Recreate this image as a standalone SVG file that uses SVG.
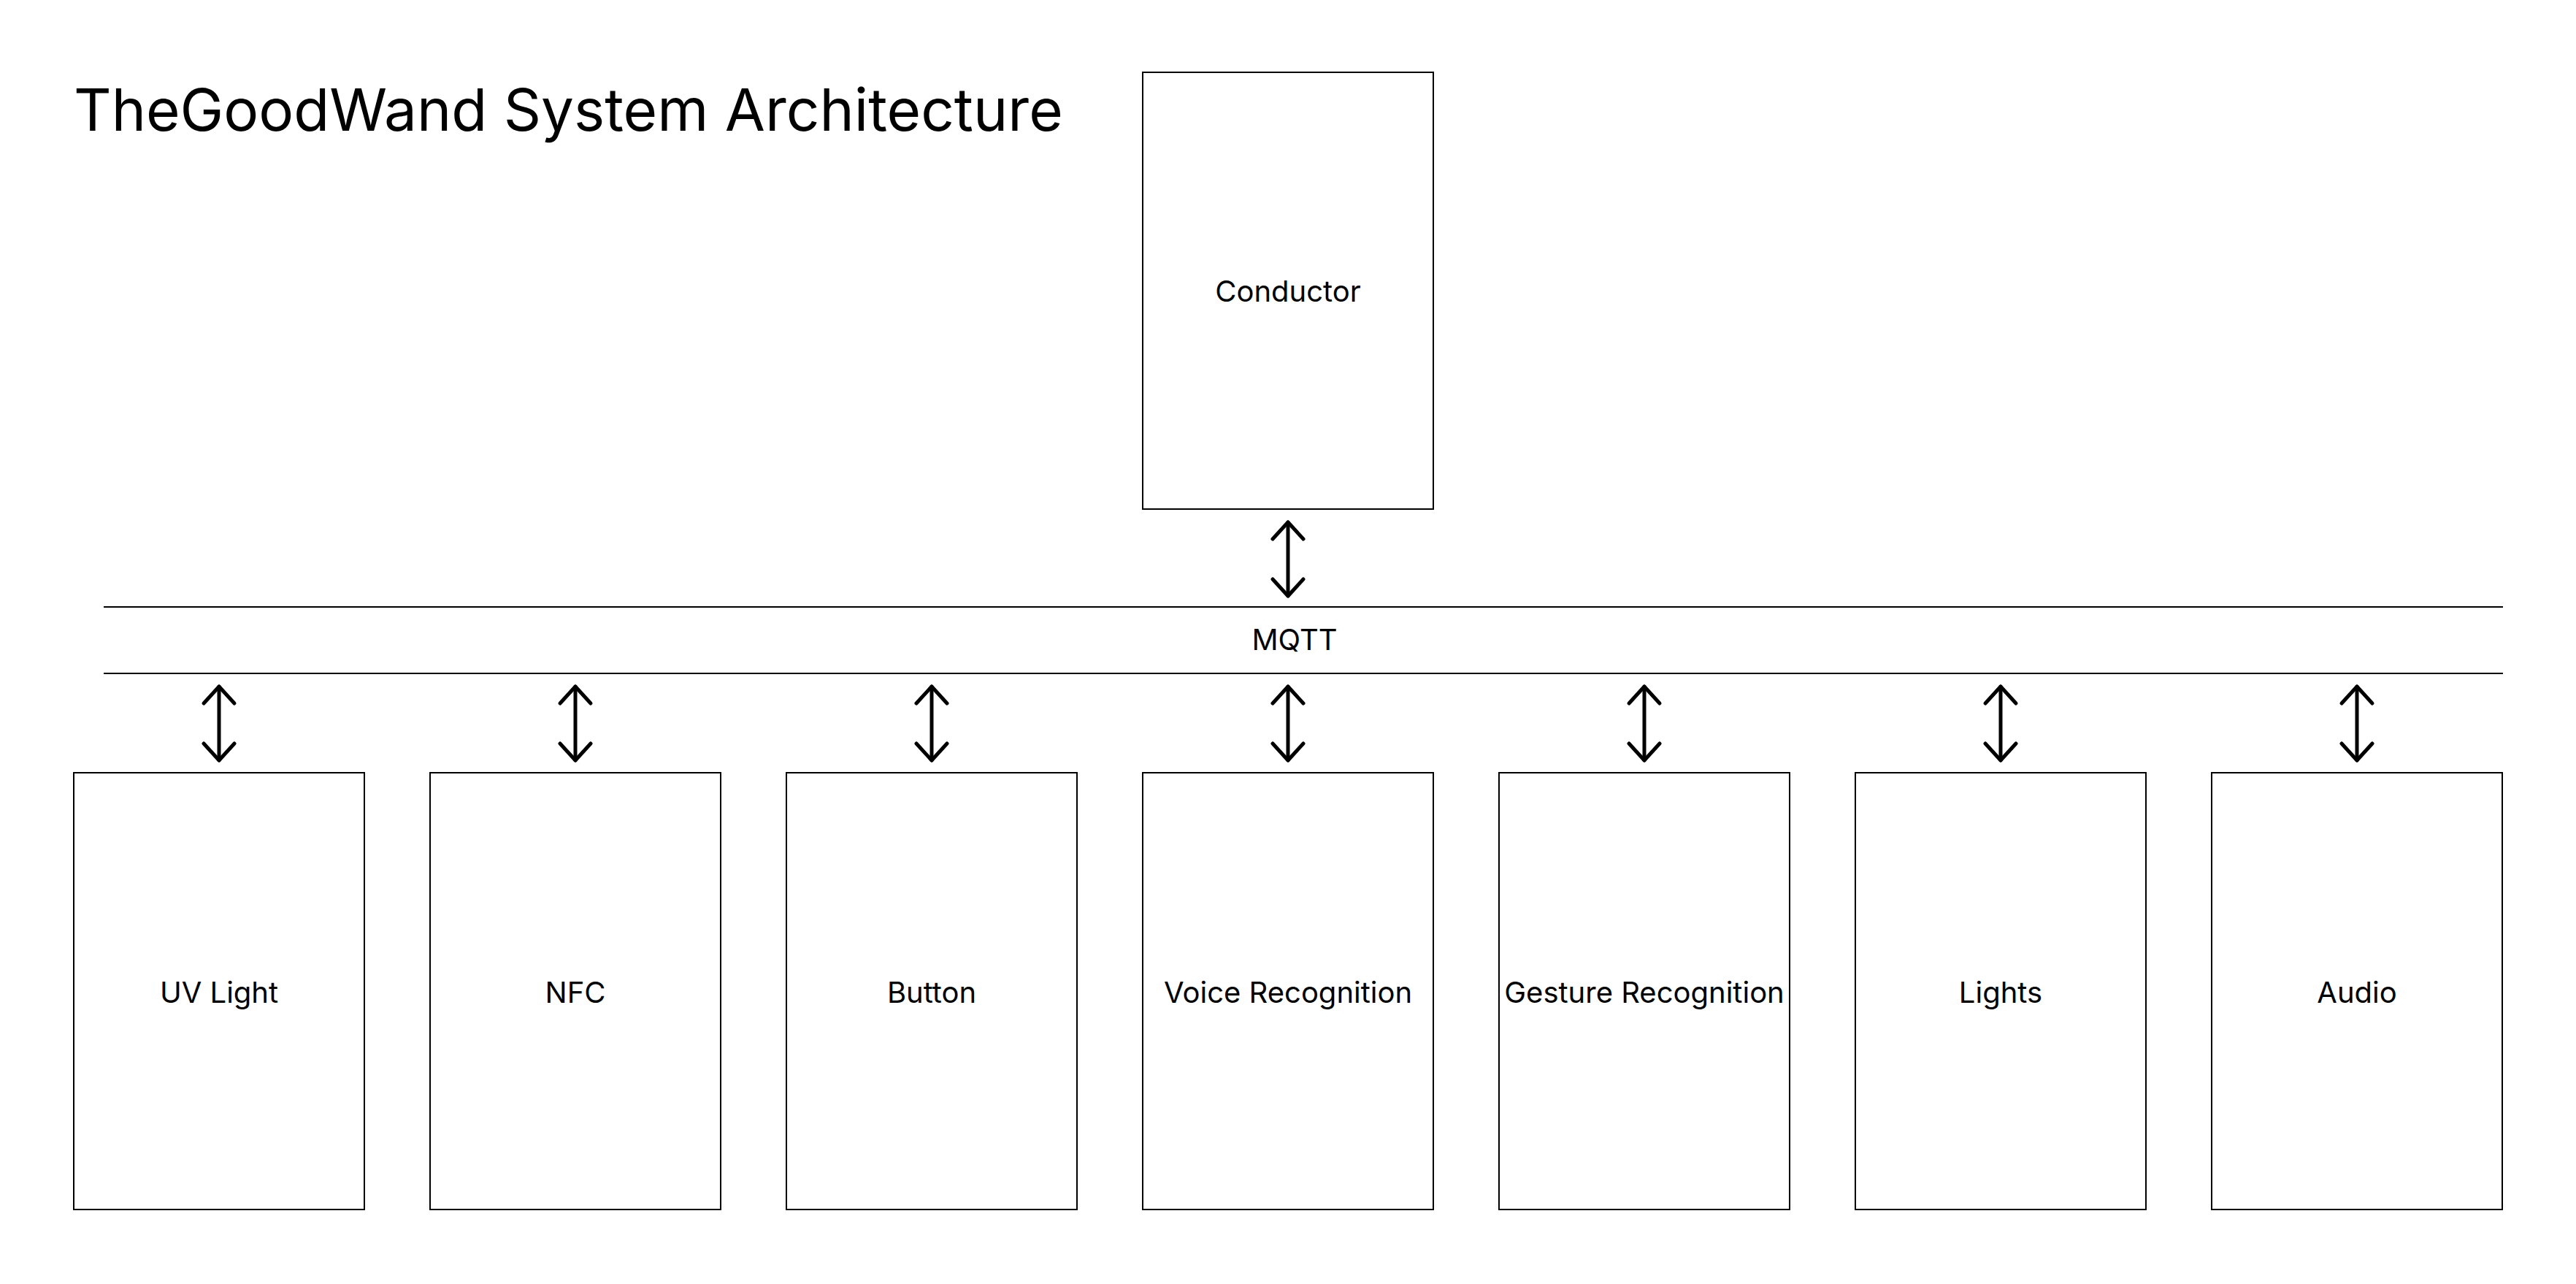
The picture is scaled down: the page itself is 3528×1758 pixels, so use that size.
<svg xmlns="http://www.w3.org/2000/svg" width="3528" height="1758" viewBox="0 0 3528 1758">
  <style>
    .box { fill: #ffffff; stroke: #000000; stroke-width: 2; }
    .lbl { font-family: Inter, "Noto Sans", "Liberation Sans", sans-serif; font-size: 40px; fill: #000000; text-anchor: middle; }
    .title { font-family: Inter, "Noto Sans", "Liberation Sans", sans-serif; font-size: 80px; fill: #000000; }
    .bus { stroke: #000000; stroke-width: 2; fill: none; }
    .conn { stroke: #000000; stroke-width: 5; stroke-linecap: round; fill: none; marker-start: url(#chev); marker-end: url(#chev); }
  </style>
  <defs>
    <marker id="chev" markerUnits="userSpaceOnUse" markerWidth="60" markerHeight="60" refX="0" refY="0" viewBox="-30 -30 60 60" orient="auto-start-reverse" overflow="visible">
      <path d="M -23 -21 L 0 0 L -23 21" fill="none" stroke="#000000" stroke-width="5" stroke-linecap="round" stroke-linejoin="round"/>
    </marker>
  </defs>
  <rect width="3528" height="1758" fill="#ffffff"/>

  <text class="title" x="101" y="179">TheGoodWand System Architecture</text>

  <g id="conductor">
    <rect class="box" x="1565" y="99" width="398" height="598"/>
    <text class="lbl" x="1764" y="413">Conductor</text>
  </g>

  <g id="mqtt">
    <line class="bus" x1="142" y1="831" x2="3428" y2="831"/>
    <line class="bus" x1="142" y1="922" x2="3428" y2="922"/>
    <text class="lbl" x="1773" y="890">MQTT</text>
  </g>

  <g id="uv-light">
    <rect class="box" x="101" y="1058" width="398" height="598"/>
    <text class="lbl" x="300" y="1373">UV Light</text>
  </g>
  <g id="nfc">
    <rect class="box" x="589" y="1058" width="398" height="598"/>
    <text class="lbl" x="788" y="1373">NFC</text>
  </g>
  <g id="button">
    <rect class="box" x="1077" y="1058" width="398" height="598"/>
    <text class="lbl" x="1276" y="1373">Button</text>
  </g>
  <g id="voice-recognition">
    <rect class="box" x="1565" y="1058" width="398" height="598"/>
    <text class="lbl" x="1764" y="1373">Voice Recognition</text>
  </g>
  <g id="gesture-recognition">
    <rect class="box" x="2053" y="1058" width="398" height="598"/>
    <text class="lbl" x="2252" y="1373">Gesture Recognition</text>
  </g>
  <g id="lights">
    <rect class="box" x="2541" y="1058" width="398" height="598"/>
    <text class="lbl" x="2740" y="1373">Lights</text>
  </g>
  <g id="audio">
    <rect class="box" x="3029" y="1058" width="398" height="598"/>
    <text class="lbl" x="3228" y="1373">Audio</text>
  </g>

  <g id="connectors">
    <line class="conn" x1="1764" y1="715" x2="1764" y2="816"/>
    <line class="conn" x1="300" y1="940" x2="300" y2="1041"/>
    <line class="conn" x1="788" y1="940" x2="788" y2="1041"/>
    <line class="conn" x1="1276" y1="940" x2="1276" y2="1041"/>
    <line class="conn" x1="1764" y1="940" x2="1764" y2="1041"/>
    <line class="conn" x1="2252" y1="940" x2="2252" y2="1041"/>
    <line class="conn" x1="2740" y1="940" x2="2740" y2="1041"/>
    <line class="conn" x1="3228" y1="940" x2="3228" y2="1041"/>
  </g>
</svg>
